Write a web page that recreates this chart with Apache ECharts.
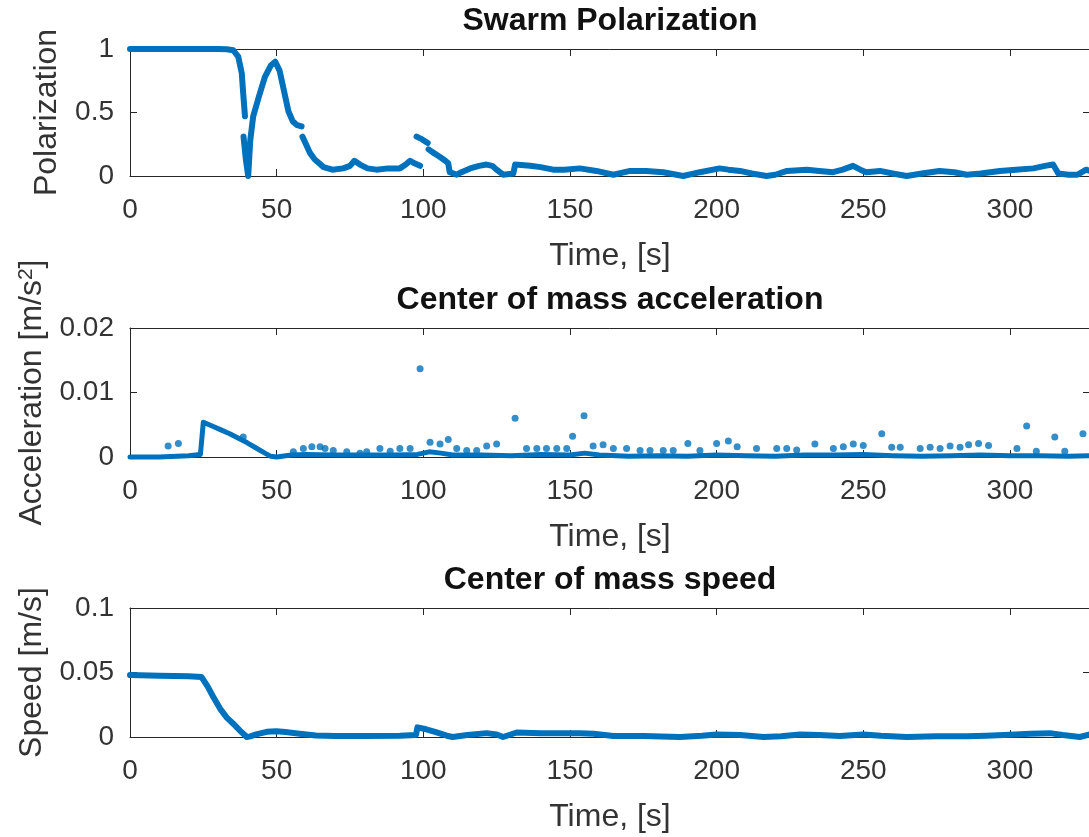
<!DOCTYPE html>
<html>
<head>
<meta charset="utf-8">
<script src="https://cdn.jsdelivr.net/npm/echarts@6/dist/echarts.min.js"></script>
<style>
  html, body { margin: 0; padding: 0; background: #fff; }
  #main { width: 1089px; height: 837px; }
</style>
</head>
<body>
<div id="main"></div>
<script>
// ---- axes ----
const timeTicks = [0, 50, 100, 150, 200, 250, 300];
const timeMax = 327.3;
const polTicks = [0, 0.5, 1];
const accTicks = [0, 0.01, 0.02];
const spdTicks = [0, 0.05, 0.1];

// ---- swarm polarization [time s, value]; separate runs where the signal jumps ----
const polRunA = [[0,1],[10,1],[20,1],[30,1],[33,0.998],[35.2,0.99],[36.9,0.94],[38.1,0.81],[38.6,0.65],[39.2,0.47]];
const polRunB = [[38.7,0.31],[39.5,0.13],[40.3,0],[41,0.28],[42,0.47],[44,0.63],[46,0.78],[48,0.87],[49.5,0.9],[51,0.83],[52.5,0.67],[54,0.51],[55.5,0.43],[57,0.4],[58.5,0.39]];
const polRunC = [[58.8,0.31],[60,0.25],[61.4,0.18],[63,0.13],[64.5,0.1],[66,0.07],[69,0.05],[72.7,0.06],[75,0.08],[76.5,0.12],[78.4,0.09],[81,0.06],[84,0.05],[88,0.06],[92,0.06],[94,0.09],[95.5,0.12],[97,0.1],[98.9,0.08]];
const polRunD = [[97.7,0.31],[99.5,0.29],[101.5,0.26]];
const polRunE = [[101.8,0.21],[103,0.19],[105.7,0.15],[107.5,0.12],[108.5,0.1],[109,0.03],[111.4,0.01],[113,0.03],[116,0.06],[119,0.08],[121.6,0.09],[123.5,0.08],[125,0.05],[127.2,0.01],[130.7,0.02],[131.3,0.09],[136.4,0.08],[140,0.07],[144.3,0.05],[148,0.05],[153.4,0.06],[159,0.04],[164.8,0.01],[170.5,0.04],[176,0.04],[181.8,0.03],[188.6,0],[194.3,0.03],[201,0.06],[204,0.05],[208,0.04],[212,0.02],[217,0],[220,0.01],[224,0.04],[230.8,0.05],[235,0.04],[239.7,0.03],[243,0.05],[246.5,0.08],[249,0.05],[251,0.03],[255.7,0.04],[260,0.02],[264.8,0],[270,0.02],[276,0.04],[281,0.03],[285.3,0.01],[290,0.02],[296.6,0.04],[302,0.05],[308,0.06],[312,0.08],[314.7,0.09],[316.5,0.02],[320,0.01],[323,0.01],[326,0.05],[327.3,0.04]];

// ---- center of mass acceleration ----
const accBase = [[0,0],[10,0],[20,0.0002],[24,0.0004],[25,0.0054],[28,0.0048],[31,0.0042],[34,0.0036],[37,0.0029],[40,0.0022],[43,0.0014],[46,0.0006],[48,0.0001],[50,0],[55,0.0003],[60,0.0004],[70,0.0003],[80,0.0003],[90,0.0003],[98,0.0004],[102,0.0008],[106,0.0006],[110,0.0003],[120,0.0003],[130,0.0002],[140,0.0004],[150,0.0003],[155,0.0006],[160,0.0003],[170,0.0001],[180,0.0002],[190,0.0001],[200,0.0003],[210,0.0002],[220,0.0001],[230,0.0003],[240,0.0003],[250,0.0004],[260,0.0002],[270,0.0001],[280,0.0002],[290,0.0003],[300,0.0002],[310,0.0002],[320,0.0001],[327.3,0.0002]];
const accSpikes = [[13,0.0017],[16.5,0.0021],[38.6,0.0031],[55.7,0.0008],[59.1,0.0013],[62,0.0016],[64.8,0.0016],[66.5,0.0013],[69.3,0.001],[73.9,0.0008],[78.4,0.0006],[80.7,0.0008],[85.2,0.0013],[88.7,0.0009],[92,0.0013],[95.5,0.0013],[98.9,0.0137],[102.3,0.0023],[105.7,0.002],[108.5,0.0027],[111.4,0.0013],[114.8,0.001],[118.2,0.001],[121.6,0.0017],[125,0.002],[131.3,0.006],[135.2,0.0013],[138.7,0.0013],[142,0.0013],[145.5,0.0013],[148.9,0.0013],[150.9,0.0032],[154.8,0.0064],[157.9,0.0017],[161.3,0.0019],[164.8,0.0013],[169.3,0.0013],[173.9,0.001],[177.3,0.001],[181.8,0.001],[185.2,0.001],[190.2,0.0021],[194.3,0.001],[200,0.0021],[204,0.0025],[207,0.0016],[213.6,0.0013],[220.5,0.0013],[223.9,0.0013],[227.3,0.0011],[233.5,0.002],[239.8,0.0013],[243.2,0.0016],[246.6,0.002],[250,0.0018],[256.3,0.0036],[259.7,0.0015],[262.6,0.0015],[269.4,0.0013],[272.8,0.0015],[276.2,0.0013],[279.6,0.0017],[283,0.0015],[285.9,0.0019],[289.3,0.0021],[292.7,0.0018],[302.4,0.0013],[305.7,0.0048],[309,0.0009],[315.3,0.0031],[318.7,0.0009],[324.9,0.0036]];

// ---- center of mass speed ----
const speed = [[0,0.048],[10,0.0475],[20,0.047],[24.4,0.0465],[26.5,0.039],[28.4,0.031],[31,0.021],[33,0.015],[35.2,0.0103],[37.5,0.005],[39.8,0],[41,0.0005],[43,0.002],[46.6,0.004],[49.9,0.0045],[53,0.0038],[57.8,0.0026],[63.4,0.0012],[70,0.0008],[80.4,0.0008],[92,0.001],[97.5,0.0015],[98,0.0075],[101,0.006],[104,0.004],[108,0.001],[110,0],[115,0.0015],[121.6,0.003],[125,0.002],[127.2,0],[131.8,0.0035],[140,0.003],[153.4,0.003],[158,0.0025],[164.8,0.0008],[175,0.0008],[187.5,0],[195,0.001],[200,0.002],[208,0.0015],[216,0],[222,0.0005],[228.4,0.002],[235,0.0015],[242,0.0008],[250,0.002],[256,0.001],[264.8,0],[275,0.0005],[285.3,0.0005],[292,0.001],[300,0.0018],[307,0.0025],[313.6,0.003],[318,0.0015],[323.8,0],[327.3,0.002]];

const FONT = '"Liberation Sans", Arial, Helvetica, sans-serif';
const AXIS = '#262626';
const TEXT = '#333333';
const BLUE = '#0072BD';

const grids = [
  { left: 130, right: -1, top: 49, height: 127 },
  { left: 130, right: -1, top: 328, height: 129 },
  { left: 130, right: -1, top: 608, height: 129 }
];
const yTicksList = [polTicks, accTicks, spdTicks];
const yNames = ['Polarization', '{a|Acceleration [m/s}{s|2}{a|]}', 'Speed [m/s]'];
const yGaps = [67, 82, 82];
const titles = ['Swarm Polarization', 'Center of mass acceleration', 'Center of mass speed'];
const titleTops = [5, 284, 564];

const xAxes = [], yAxes = [];
grids.forEach((g, i) => {
  g.outerBoundsMode = 'none';
  g.containLabel = false;
  xAxes.push({
    type: 'value', gridIndex: i, position: 'bottom', min: 0, max: timeMax,
    axisLine: { show: true, onZero: false, lineStyle: { color: AXIS, width: 1 } },
    axisTick: { show: true, inside: true, length: 7, customValues: timeTicks, lineStyle: { color: AXIS } },
    axisLabel: { customValues: timeTicks, fontSize: 28, color: TEXT, margin: 20, fontFamily: FONT },
    splitLine: { show: false },
    name: 'Time, [s]', nameLocation: 'middle', nameGap: 64,
    nameTextStyle: { fontSize: 32, color: TEXT, fontFamily: FONT }
  });
  xAxes.push({
    type: 'value', gridIndex: i, position: 'top', min: 0, max: timeMax,
    axisLine: { show: true, onZero: false, lineStyle: { color: AXIS, width: 1 } },
    axisTick: { show: true, inside: true, length: 7, customValues: timeTicks, lineStyle: { color: AXIS } },
    axisLabel: { show: false },
    splitLine: { show: false }
  });
  const t = yTicksList[i];
  yAxes.push({
    type: 'value', gridIndex: i, position: 'left', min: t[0], max: t[t.length - 1],
    axisLine: { show: true, onZero: false, lineStyle: { color: AXIS, width: 1 } },
    axisTick: { show: true, inside: true, length: 7, customValues: t, lineStyle: { color: AXIS } },
    axisLabel: { customValues: t, fontSize: 28, color: TEXT, margin: 16, fontFamily: FONT, padding: [4, 0, 0, 0] },
    splitLine: { show: false },
    name: yNames[i], nameLocation: 'middle', nameRotate: 90, nameGap: yGaps[i],
    nameTextStyle: {
      fontSize: 32, color: TEXT, fontFamily: FONT,
      rich: {
        a: { fontSize: 32, color: TEXT, fontFamily: FONT },
        s: { fontSize: 21, color: TEXT, fontFamily: FONT, verticalAlign: 'top' }
      }
    }
  });
  yAxes.push({
    type: 'value', gridIndex: i, position: 'right', min: t[0], max: t[t.length - 1],
    axisLine: { show: true, onZero: false, lineStyle: { color: AXIS, width: 1 } },
    axisTick: { show: true, inside: true, length: 7, customValues: t, lineStyle: { color: AXIS } },
    axisLabel: { show: false },
    splitLine: { show: false }
  });
});

function lineSeries(data, gi, width) {
  return {
    type: 'line', data: data, xAxisIndex: gi * 2, yAxisIndex: gi * 2,
    showSymbol: false, clip: false, silent: true, z: 3,
    lineStyle: { color: BLUE, width: width, cap: 'round', join: 'round' }
  };
}

const series = [
  lineSeries(polRunA, 0, 6),
  lineSeries(polRunB, 0, 6),
  lineSeries(polRunC, 0, 6),
  lineSeries(polRunD, 0, 6),
  lineSeries(polRunE, 0, 6),
  lineSeries(accBase, 1, 5),
  {
    type: 'scatter', data: accSpikes, xAxisIndex: 2, yAxisIndex: 2,
    symbolSize: 7, clip: false, silent: true, z: 3,
    itemStyle: { color: BLUE }
  },
  lineSeries(speed, 2, 6)
];

const chart = echarts.init(document.getElementById('main'), null, { renderer: 'canvas' });
chart.setOption({
  backgroundColor: '#ffffff',
  animation: false,
  textStyle: { fontFamily: FONT },
  title: titles.map((txt, i) => ({
    text: txt, left: 610, top: titleTops[i], textAlign: 'center', padding: 0,
    textStyle: { fontSize: 32, fontWeight: 'bold', color: '#111', fontFamily: FONT }
  })),
  grid: grids,
  xAxis: xAxes,
  yAxis: yAxes,
  series: series
});
</script>
</body>
</html>
